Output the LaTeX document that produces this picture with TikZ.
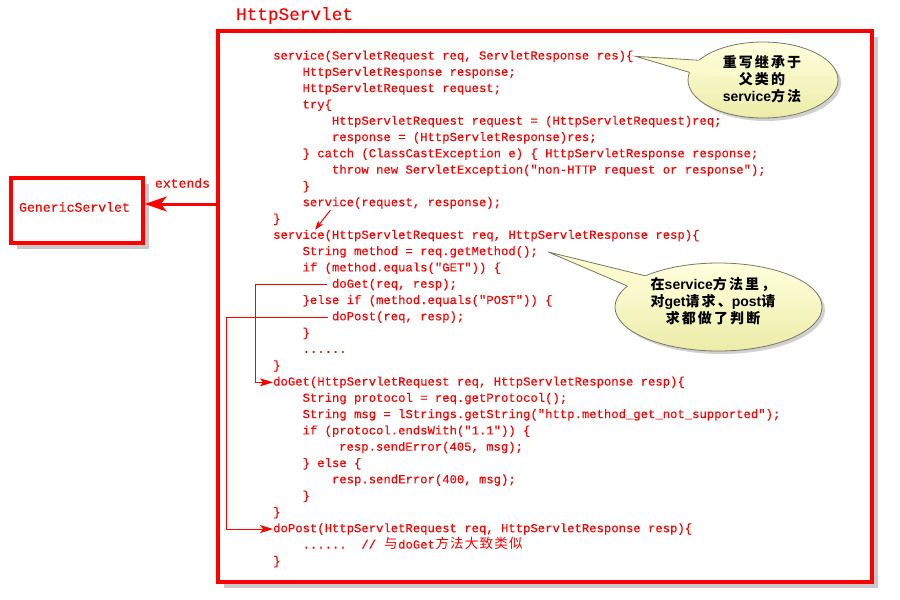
\documentclass[tikz,border=0pt]{standalone}
\usepackage{fontspec}
\usetikzlibrary{arrows.meta,shapes.geometric,shadows}
\newfontfamily\codefont[FakeBold=0.2]{Liberation Mono}
\newfontfamily\cjk{Noto Sans CJK SC}
\newfontfamily\zhb[LetterSpace=15]{Noto Sans CJK SC}
\newfontfamily\lsb{Liberation Sans}
\definecolor{cred}{RGB}{255,0,0}
\definecolor{ctop}{RGB}{255,255,222}
\definecolor{cbot}{RGB}{236,236,168}
\definecolor{ctail}{RGB}{250,250,205}
\definecolor{cline}{RGB}{120,120,100}
\newcommand\zc[1]{\makebox[14.7pt]{\cjk\fontsize{13.5}{14}\selectfont #1}}
\newcommand\codeln[3]{\node[code] (l#1) at (#2,{59.5+16.3*#1}) {#3};}
\begin{document}
\begin{tikzpicture}[x=1pt,y=-1pt,
  code/.style={anchor=base west,inner sep=0pt,text=cred,font=\codefont\fontsize{12.25}{14}\selectfont\frenchspacing},
  redbox/.style={draw=cred,line width=3.5pt,fill=white,inner sep=0pt,
     drop shadow={shadow xshift=6pt,shadow yshift=-6pt,opacity=0.3,fill=black!70}},
  title/.style={text=cred,inner sep=0pt,font=\codefont\fontsize{17.7}{20}\selectfont},
  lbl/.style={text=cred,inner sep=0pt,font=\codefont\fontsize{13.1}{15}\selectfont},
  extarrow/.style={draw=cred,line width=3pt,-{Stealth[length=22pt,width=15pt,inset=6pt]}},
  conn/.style={draw=cred,line width=1pt,-{Stealth[length=13pt,width=8pt,inset=3pt]}},
  smallarrow/.style={draw=cred,line width=1pt,-{Stealth[length=9pt,width=6pt,inset=2pt]}},
  callout/.style={ellipse,draw=cline,line width=0.8pt,top color=ctop,bottom color=cbot,inner sep=0pt,
     drop shadow={shadow xshift=3pt,shadow yshift=-3pt,opacity=0.3,fill=black!60}},
  callouttext/.style={align=center,inner sep=0pt,font=\bfseries\fontsize{14}{17}\selectfont},
  tailfill/.style={fill=ctail},
  tailline/.style={draw=cline,line width=0.8pt,line join=miter},
]
\useasboundingbox (0,0) rectangle (900,600);

% boxes
\node[redbox,minimum width=654pt,minimum height=551pt] (http) at (545,306.5) {};
\node[redbox,minimum width=132pt,minimum height=65pt] (gen) at (77,210.5) {};
\node[lbl,font=\codefont\fontsize{13.2}{15}\selectfont] (gent) at (74.5,207) {GenericServlet};
\node[title] (ttl) at (294.5,15.5) {HttpServlet};

% extends arrow
\node[lbl] (extl) at (182.5,183) {extends};
\coordinate (ey) at (0,204);
\draw[extarrow] (http.west |- ey) -- (gen.east |- ey);

% code
\codeln{0}{273}{service(ServletRequest req, ServletResponse res)\{}
\codeln{1}{302.4}{HttpServletResponse response;}
\codeln{2}{302.4}{HttpServletRequest request;}
\codeln{3}{302.4}{try\{}
\codeln{4}{331.8}{HttpServletRequest request = (HttpServletRequest)req;}
\codeln{5}{331.8}{response = (HttpServletResponse)res;}
\codeln{6}{302.4}{\} catch (ClassCastException e) \{ HttpServletResponse response;}
\codeln{7}{331.8}{throw new ServletException("non-HTTP request or response");}
\codeln{8}{302.4}{\}}
\codeln{9}{302.4}{service(request, response);}
\codeln{10}{273}{\}}
\codeln{11}{273}{service(HttpServletRequest req, HttpServletResponse resp)\{}
\codeln{12}{302.4}{String method = req.getMethod();}
\codeln{13}{302.4}{if (method.equals("GET")) \{}
\codeln{14}{331.8}{doGet(req, resp);}
\codeln{15}{302.4}{\}else if (method.equals("POST")) \{}
\codeln{16}{331.8}{doPost(req, resp);}
\codeln{17}{302.4}{\}}
\codeln{18}{302.4}{......}
\codeln{19}{273}{\}}
\codeln{20}{273}{doGet(HttpServletRequest req, HttpServletResponse resp)\{}
\codeln{21}{302.4}{String protocol = req.getProtocol();}
\codeln{22}{302.4}{String msg = lStrings.getString("http.method\_get\_not\_supported");}
\codeln{23}{302.4}{if (protocol.endsWith("1.1")) \{}
\codeln{24}{339}{resp.sendError(405, msg);}
\codeln{25}{302.4}{\} else \{}
\codeln{26}{331.8}{resp.sendError(400, msg);}
\codeln{27}{302.4}{\}}
\codeln{28}{273}{\}}
\codeln{29}{273}{doPost(HttpServletRequest req, HttpServletResponse resp)\{}
\codeln{30}{302.4}{......\ \ // \zc{与}doGet\zc{方}\zc{法}\zc{大}\zc{致}\zc{类}\zc{似}}
\codeln{31}{273}{\}}

% connectors inside code
\draw[smallarrow] ([xshift=28pt,yshift=-4pt]l9.base west) -- ([xshift=42pt]l11.north west);
\draw[conn] ([xshift=-4.5pt]l14.west) -- ++(-72.3,0) |- (l20.west);
\draw[conn] ([xshift=-4pt]l16.west) -- ++(-101.8,0) |- (l29.west);

% callout 1
\node[callout,minimum width=150pt,minimum height=76pt] (c1) at (763,80) {};
\fill[tailfill] ([xshift=2pt]l0.east) -- (c1.163) -- (c1.center) -- (c1.174) -- cycle;
\draw[tailline] (c1.163) -- ([xshift=2pt]l0.east) -- (c1.174);
\node[callouttext] (c1t) at (762,79) {{\zhb 重写继承于}\\{\zhb 父类的}\\{\lsb service}{\zhb 方法}};

% callout 2
\node[callout,minimum width=207pt,minimum height=88pt] (c2) at (718.5,307) {};
\fill[tailfill] ([xshift=10pt]l12.east) -- (c2.157) -- (c2.center) -- (c2.167) -- cycle;
\draw[tailline] (c2.157) -- ([xshift=10pt]l12.east) -- (c2.167);
\node[callouttext] (c2t) at (713,301.5) {{\zhb 在}{\lsb service}{\zhb 方法里，}\\{\zhb 对}{\lsb get}{\zhb 请求、}{\lsb post}{\zhb 请}\\{\zhb 求都做了判断}};
\end{tikzpicture}
\end{document}
